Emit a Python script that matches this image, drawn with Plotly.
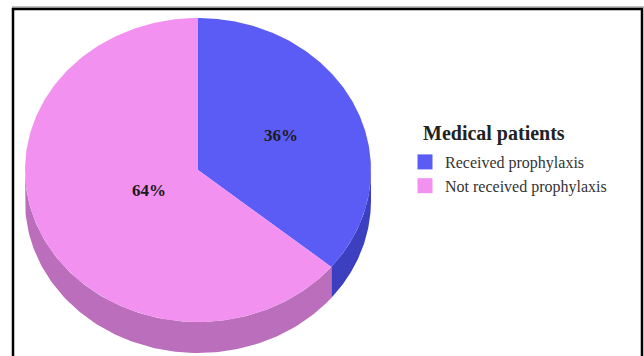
import numpy as np
import plotly.graph_objects as go

# ---- data ----
labels = ["Received prophylaxis", "Not received prophylaxis"]
values = [36, 64]
legend_title = "Medical patients"

# ---- style ----
top_colors = ["#5b5cf6", "#f291f0"]
side_colors = ["#3c3fc0", "#bb6ebb"]
label_radius = [0.53, 0.31]
W, H = 644, 356
CX, CY = 198, 170      # ellipse centre (px)
RX, RY = 173, 152      # ellipse radii (px)
DEPTH = 31             # pie thickness (px)
FONT = "Liberation Serif, Times New Roman, serif"

def pt(theta_deg, r=1.0, dy=0.0):
    t = np.radians(theta_deg)
    return CX + r * RX * np.sin(t), CY - r * RY * np.cos(t) + dy

fig = go.Figure()

total = float(sum(values))
starts = np.cumsum([0] + values[:-1]) / total * 360.0
ends = np.cumsum(values) / total * 360.0

# sides (front half: 90..270 deg clockwise from top)
for i in range(len(values)):
    a0, a1 = max(starts[i], 90), min(ends[i], 270)
    if a1 <= a0:
        continue
    th = np.linspace(a0, a1, 120)
    xt, yt = pt(th)
    xb, yb = pt(th[::-1], dy=DEPTH)
    fig.add_trace(go.Scatter(
        x=np.concatenate([xt, xb, xt[:1]]), y=np.concatenate([yt, yb, yt[:1]]),
        fill="toself", mode="lines", line=dict(width=0, color=side_colors[i]),
        fillcolor=side_colors[i], showlegend=False, hoverinfo="skip"))

# top faces
for i in range(len(values)):
    th = np.linspace(starts[i], ends[i], 240)
    xs, ys = pt(th)
    fig.add_trace(go.Scatter(
        x=np.concatenate([[CX], xs, [CX]]), y=np.concatenate([[CY], ys, [CY]]),
        fill="toself", mode="lines", line=dict(width=0, color=top_colors[i]),
        fillcolor=top_colors[i], showlegend=False, hoverinfo="skip"))

# legend entries
for i, lab in enumerate(labels):
    fig.add_trace(go.Scatter(
        x=[None], y=[None], mode="markers", name=lab,
        marker=dict(symbol="square", size=15, color=top_colors[i])))

# percentage labels
for i, v in enumerate(values):
    mid = (starts[i] + ends[i]) / 2
    x, y = pt(mid, r=label_radius[i])
    fig.add_annotation(x=x, y=y, text=f"<b>{round(v / total * 100)}%</b>",
                       showarrow=False, font=dict(family=FONT, size=17, color="#1a1a1a"))

# legend title
fig.add_annotation(x=421, y=133, xanchor="left", yanchor="middle", showarrow=False,
                   text=f"<b>{legend_title}</b>",
                   font=dict(family=FONT, size=20, color="#222222"))

# frame
fig.add_shape(type="line", x0=12, x1=644, y0=7, y1=7, line=dict(color="#888888", width=1))
fig.add_shape(type="rect", x0=13, x1=642, y0=9, y1=400, line=dict(color="#000000", width=2.5))

fig.update_layout(
    width=W, height=H, margin=dict(l=0, r=0, t=0, b=0),
    paper_bgcolor="white", plot_bgcolor="white",
    xaxis=dict(range=[0, W], visible=False, fixedrange=True),
    yaxis=dict(range=[H, 0], visible=False, fixedrange=True),
    showlegend=True,
    legend=dict(
        x=405 / W, y=1 - 145 / H, xanchor="left", yanchor="top",
        font=dict(family=FONT, size=16, color="#333333"),
        itemwidth=30, tracegroupgap=0, bgcolor="rgba(0,0,0,0)",
    ),
)

fig.write_html("out.html")
